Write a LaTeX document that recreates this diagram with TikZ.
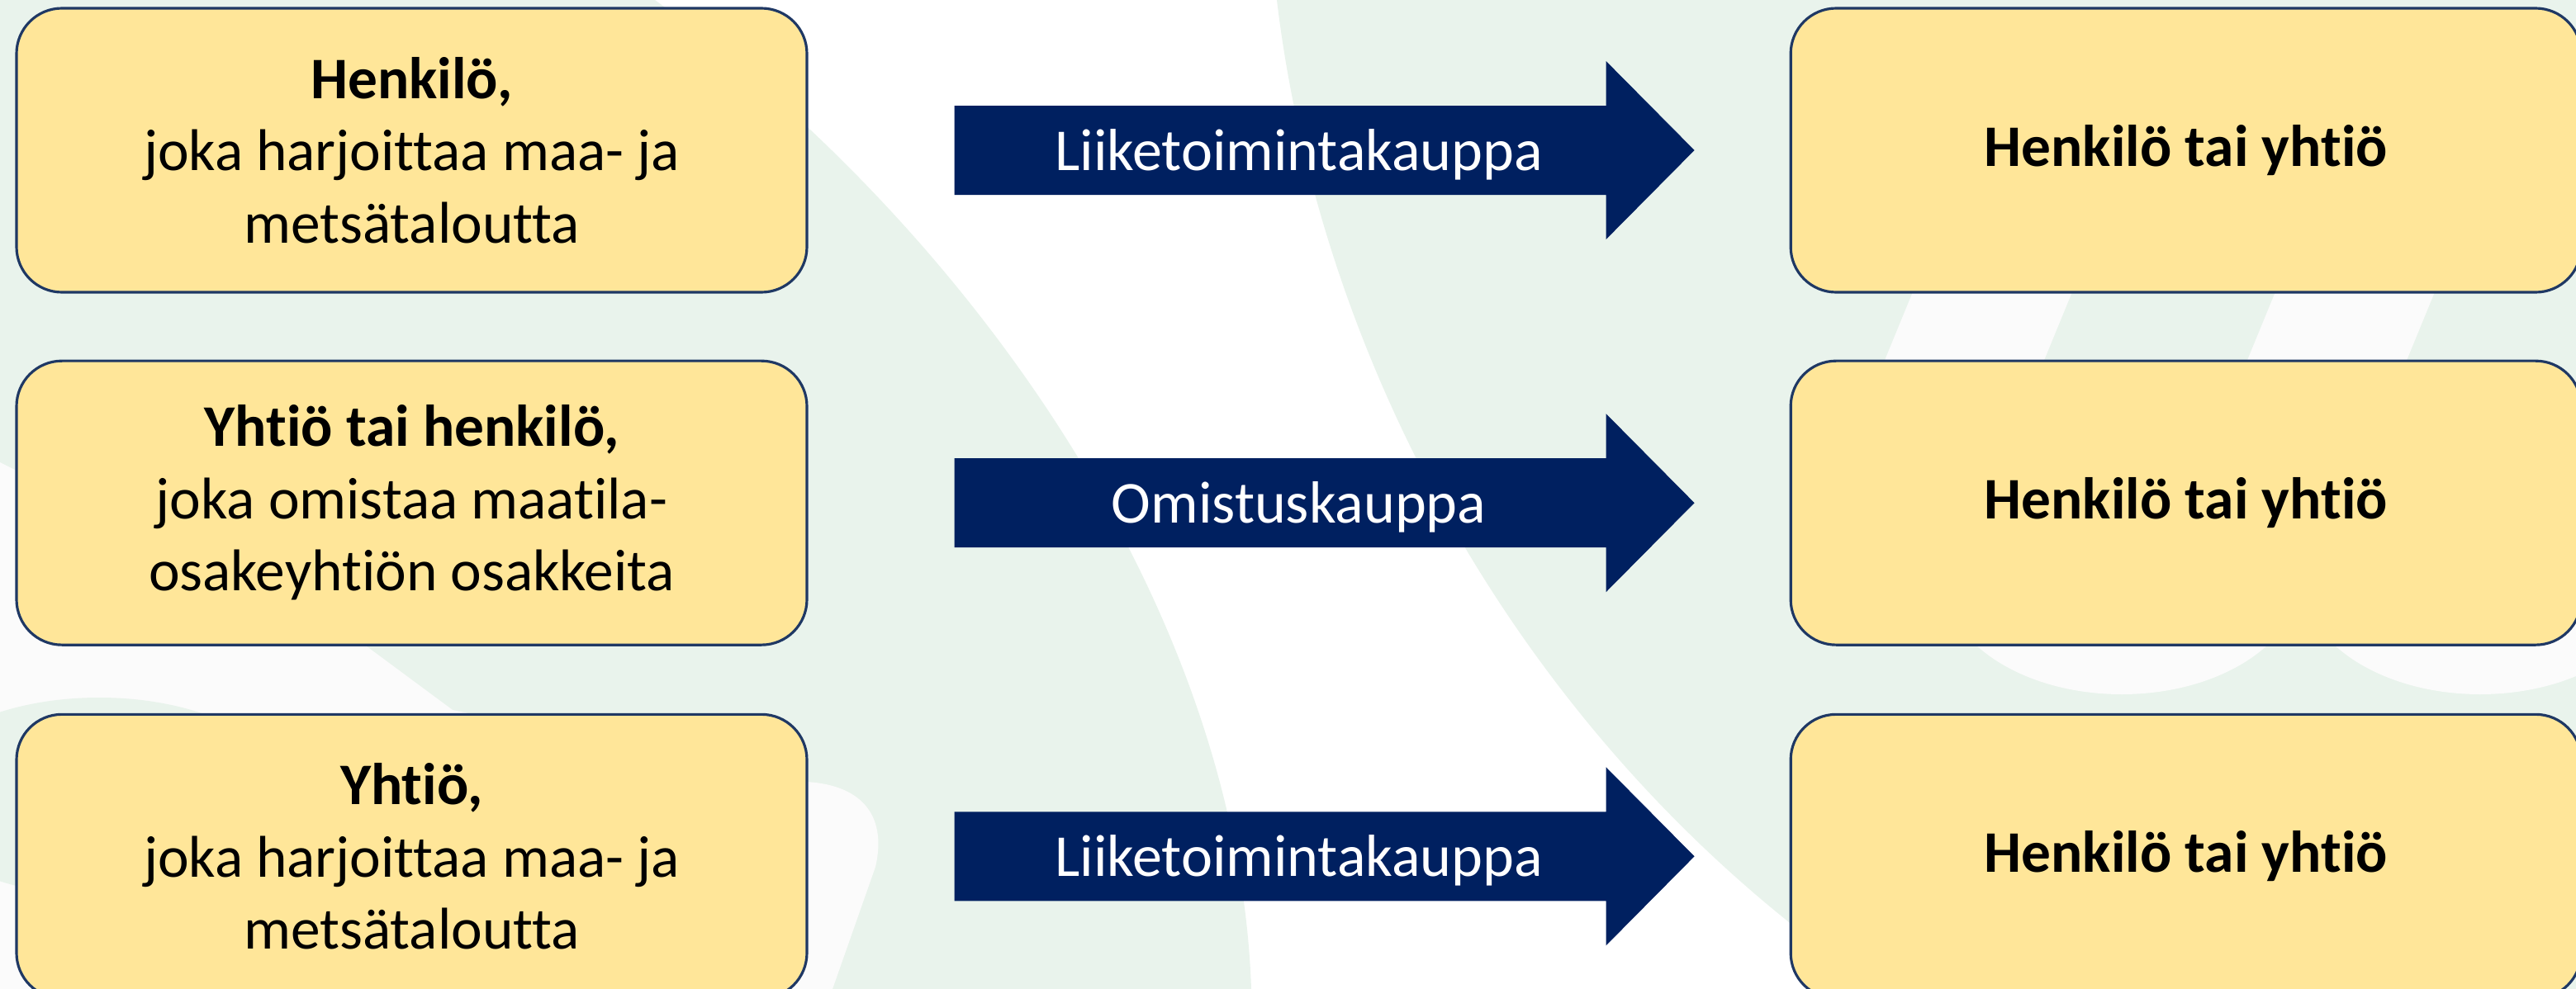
\documentclass[tikz,border=0pt]{standalone}
\usepackage{fontspec}
\setmainfont[Ligatures=NoCommon]{Carlito}
\usetikzlibrary{positioning,calc}
\definecolor{bggreen}{HTML}{E9F3EC}
\definecolor{paleback}{HTML}{FBFBFB}
\definecolor{boxfill}{HTML}{FFE699}
\definecolor{boxline}{HTML}{1F3864}
\definecolor{dealblue}{HTML}{002060}
\tikzset{
  party/.style={draw=boxline, line width=0.9pt, fill=boxfill, rounded corners=0.55cm,
    minimum width=9.57cm, minimum height=3.44cm, align=center, inner sep=0pt,
    font=\fontsize{20.3}{24.9}\selectfont},
  deal/.style={fill=dealblue},
  dealtext/.style={text=white, inner sep=0pt, yshift=-0.05cm, font=\fontsize{20.5}{24.9}\selectfont},
}
\begin{document}
\begin{tikzpicture}
    \useasboundingbox (0,0) rectangle (31.19,-11.98);
    % background
    \fill[white] (0,0) rectangle (31.19,-11.98);
    \fill[bggreen] (0,0) -- (7.93,0) .. controls (12.0,-3.0) and (15.0,-7.6) .. (15.15,-11.98) -- (0,-11.98) -- cycle;
    \fill[bggreen] (15.46,0) .. controls (16.0,-4.5) and (18.5,-9.0) .. (22.5,-11.8) -- (31.19,-11.98) -- (31.19,0) -- cycle;
    \fill[paleback] (0,-5.6) -- (4.40,-7.80) -- (5.48,-8.60) -- (9.75,-9.47) .. controls (10.4,-9.5) and (10.75,-9.85) .. (10.6,-10.5) -- (10.08,-11.98) -- (0,-11.98) -- cycle;
    \fill[bggreen] (1.2,-9.65) ellipse (2.3 and 1.2);
    \fill[paleback] (23.38,-3.0) -- (25.31,-3.0) -- (24.53,-4.9) -- (22.60,-4.9) -- cycle;
    \fill[paleback] (27.77,-3.0) -- (29.70,-3.0) -- (28.92,-4.9) -- (26.99,-4.9) -- cycle;
    \fill[paleback] (25.69,-7.0) ellipse (2.16 and 1.41);
    \fill[paleback] (30.03,-7.0) ellipse (2.16 and 1.41);

    % sellers
    \node[party] (src1) at (4.985,-1.82) {\textbf{Henkilö,}\\joka harjoittaa maa- ja\\metsätaloutta};
    \node[party, below=0.8cm of src1] (src2) {\textbf{Yhtiö tai henkilö,}\\joka omistaa maatila-\\osakeyhtiön osakkeita};
    \node[party, below=0.81cm of src2] (src3) {\textbf{Yhtiö,}\\joka harjoittaa maa- ja\\metsätaloutta};

    % buyers
    \node[party, right=11.88cm of src1] (dst1) {\textbf{Henkilö tai yhtiö}};
    \node[party, right=11.88cm of src2] (dst2) {\textbf{Henkilö tai yhtiö}};
    \node[party, right=11.88cm of src3] (dst3) {\textbf{Henkilö tai yhtiö}};

    % deals
    \fill[deal] ([xshift=1.77cm,yshift=0.54cm]src1.east) -- ([xshift=-2.22cm,yshift=0.54cm]dst1.west) -- ([xshift=-2.22cm,yshift=1.08cm]dst1.west)
        -- ([xshift=-1.15cm]dst1.west) -- ([xshift=-2.22cm,yshift=-1.08cm]dst1.west) -- ([xshift=-2.22cm,yshift=-0.54cm]dst1.west)
        -- ([xshift=1.77cm,yshift=-0.54cm]src1.east) -- cycle;
    \node[dealtext] (deal1) at ($(src1.east)!0.5!(dst1.west)$) {Liiketoimintakauppa};

    \fill[deal] ([xshift=1.77cm,yshift=0.54cm]src2.east) -- ([xshift=-2.22cm,yshift=0.54cm]dst2.west) -- ([xshift=-2.22cm,yshift=1.08cm]dst2.west)
        -- ([xshift=-1.15cm]dst2.west) -- ([xshift=-2.22cm,yshift=-1.08cm]dst2.west) -- ([xshift=-2.22cm,yshift=-0.54cm]dst2.west)
        -- ([xshift=1.77cm,yshift=-0.54cm]src2.east) -- cycle;
    \node[dealtext] (deal2) at ($(src2.east)!0.5!(dst2.west)$) {Omistuskauppa};

    \fill[deal] ([xshift=1.77cm,yshift=0.54cm]src3.east) -- ([xshift=-2.22cm,yshift=0.54cm]dst3.west) -- ([xshift=-2.22cm,yshift=1.08cm]dst3.west)
        -- ([xshift=-1.15cm]dst3.west) -- ([xshift=-2.22cm,yshift=-1.08cm]dst3.west) -- ([xshift=-2.22cm,yshift=-0.54cm]dst3.west)
        -- ([xshift=1.77cm,yshift=-0.54cm]src3.east) -- cycle;
    \node[dealtext] (deal3) at ($(src3.east)!0.5!(dst3.west)$) {Liiketoimintakauppa};
\end{tikzpicture}
\end{document}
